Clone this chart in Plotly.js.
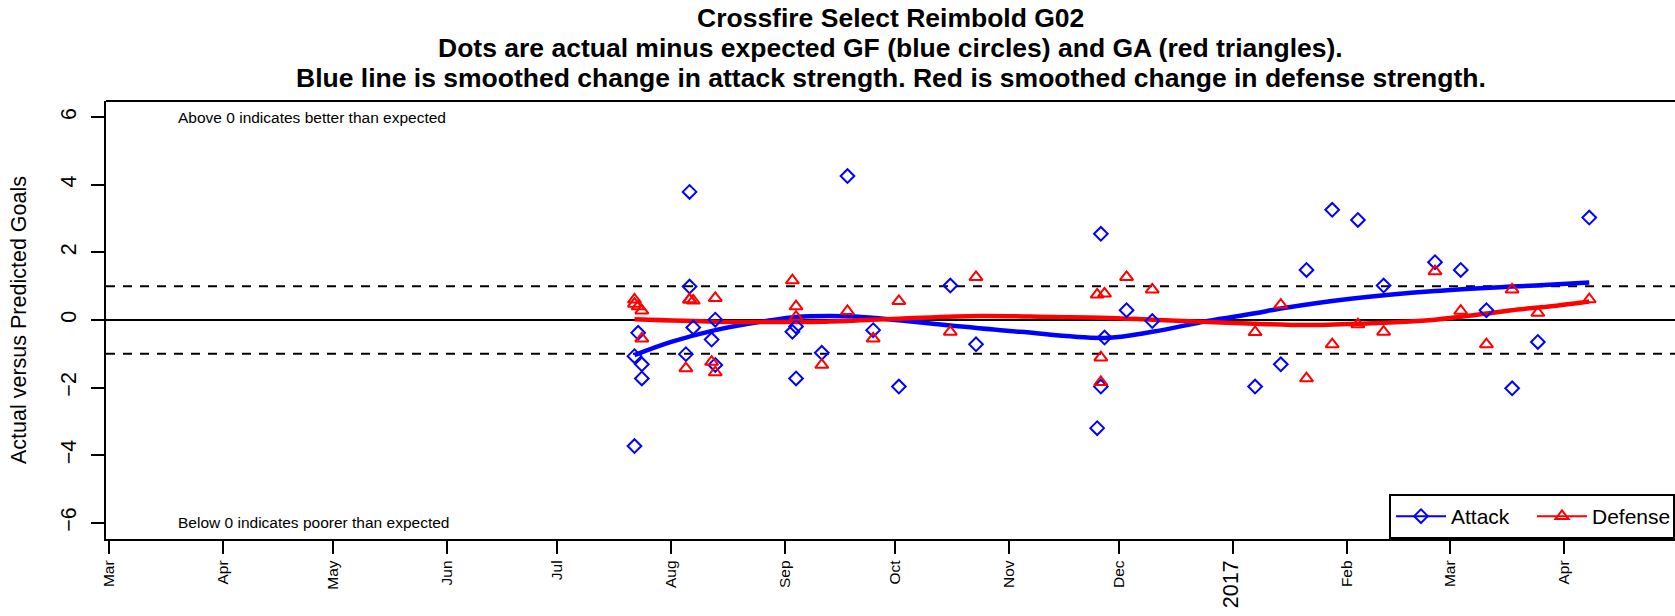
<!DOCTYPE html>
<html><head><meta charset="utf-8">
<script src="https://cdn.plot.ly/plotly-3.0.1.min.js"></script>
<style>html,body{margin:0;padding:0;background:#fff}#chart{width:1675px;height:616px}</style>
</head><body><div id="chart"></div>
<script>
// ---- data ----
const gameDates = ['2016-07-22','2016-07-22','2016-07-23','2016-07-24','2016-07-24',
  '2016-08-05','2016-08-06','2016-08-06','2016-08-07',
  '2016-08-12','2016-08-13','2016-08-13',
  '2016-09-03','2016-09-04','2016-09-04',
  '2016-09-11','2016-09-18','2016-09-25','2016-10-02','2016-10-16','2016-10-23',
  '2016-11-25','2016-11-26','2016-11-26','2016-11-27',
  '2016-12-03','2016-12-10',
  '2017-01-07','2017-01-14','2017-01-21','2017-01-28','2017-02-04','2017-02-11',
  '2017-02-25','2017-03-04','2017-03-11','2017-03-18','2017-03-25','2017-04-08'];
const attack = [-3.73,-1.07,-0.38,-1.31,-1.73,
  -1.01,3.79,0.99,-0.22,
  -0.58,0.01,-1.33,
  -0.35,-0.19,-1.73,
  -0.97,4.26,-0.30,-1.97,1.02,-0.72,
  -3.20,2.55,-1.97,-0.52,
  0.29,-0.03,
  -1.97,-1.31,1.48,3.26,2.96,1.02,
  1.71,1.48,0.29,-2.02,-0.65,3.03];
const defense = [0.60,0.48,0.40,0.28,-0.55,
  -1.43,0.60,0.60,0.57,
  -1.24,0.65,-1.55,
  1.17,0.40,0.09,
  -1.33,0.26,-0.55,0.56,-0.35,1.27,
  0.75,-1.11,-1.84,0.78,
  1.27,0.90,
  -0.36,0.45,-1.73,-0.72,-0.13,-0.35,
  1.44,0.27,-0.72,0.90,0.21,0.61];

const attackSmoothDates = ['2016-07-22','2016-08-01','2016-08-13','2016-08-28','2016-09-04','2016-09-13',
  '2016-09-20','2016-10-02','2016-10-16','2016-11-04','2016-11-27','2016-12-10','2016-12-25',
  '2017-01-07','2017-01-14','2017-02-02','2017-02-25','2017-03-18','2017-03-28','2017-04-08'];
const attackSmooth = [-1.04,-0.65,-0.30,-0.01,0.09,0.12,0.10,-0.01,-0.16,-0.35,-0.53,-0.35,-0.03,
  0.20,0.34,0.63,0.86,0.99,1.04,1.11];

const defenseSmoothDates = ['2016-07-22','2016-08-13','2016-08-28','2016-09-11','2016-10-02','2016-10-24',
  '2016-11-13','2016-11-26','2016-12-10','2016-12-25','2017-01-07','2017-01-21','2017-02-04',
  '2017-02-25','2017-03-11','2017-03-18','2017-03-28','2017-04-08'];
const defenseSmooth = [0.02,-0.05,-0.06,-0.05,0.04,0.12,0.09,0.07,0.01,-0.06,-0.11,-0.15,-0.11,
  0.01,0.19,0.29,0.40,0.55];

const xTickVals = ['2016-03-01','2016-04-01','2016-05-01','2016-06-01','2016-07-01','2016-08-01',
  '2016-09-01','2016-10-01','2016-11-01','2016-12-01','2017-01-01','2017-02-01','2017-03-01','2017-04-01'];
const xTickText = ['Mar','Apr','May','Jun','Jul','Aug','Sep','Oct','Nov','Dec',
  '<span style="font-size:21.5px">2017</span>','Feb','Mar','Apr'];
const yTickVals = [-6,-4,-2,0,2,4,6];
const yTickText = ['\u22126','\u22124','\u22122','0','2','4','6'];

const titleLines = ['Crossfire Select Reimbold G02',
  'Dots are actual minus expected GF (blue circles) and GA (red triangles).',
  'Blue line is smoothed change in attack strength. Red is smoothed change in defense strength.'];

const FONT = 'Liberation Sans, Arial, Helvetica, sans-serif';
const BLUE = '#0000FF', RED = '#FF0000';

const traces = [
  {x: attackSmoothDates, y: attackSmooth, mode: 'lines', line: {color: BLUE, width: 4.5, shape: 'spline'},
   showlegend: false, hoverinfo: 'skip'},
  {x: defenseSmoothDates, y: defenseSmooth, mode: 'lines', line: {color: RED, width: 4.5, shape: 'spline'},
   showlegend: false, hoverinfo: 'skip'},
  {x: gameDates, y: attack, mode: 'markers', showlegend: false,
   marker: {symbol: 'diamond-open', size: 10.5, color: BLUE, line: {width: 2, color: BLUE}}},
  {x: gameDates, y: defense, mode: 'markers', showlegend: false,
   marker: {symbol: 'triangle-up-open', size: 11.5, color: RED, line: {width: 2, color: RED}}},
  {x: [null], y: [null], name: 'Attack', mode: 'lines+markers', line: {color: BLUE, width: 2},
   marker: {symbol: 'diamond-open', size: 10.5, color: BLUE, line: {width: 2, color: BLUE}}},
  {x: [null], y: [null], name: 'Defense', mode: 'lines+markers', line: {color: RED, width: 2},
   marker: {symbol: 'triangle-up-open', size: 11.5, color: RED, line: {width: 2, color: RED}}}
];

const ML = 106, MT = 101, MB = 77, W = 1675, H = 616;
const plotH = H - MT - MB;
const pyToPaper = py => (H - MB - py) / plotH;
const pxToPaper = px => (px - ML) / (W - ML);

const annotations = titleLines.map((t, i) => ({
  text: '<b>' + t + '</b>', xref: 'paper', yref: 'paper', x: 0.5, y: pyToPaper([18, 48, 78][i]),
  xanchor: 'center', yanchor: 'middle', showarrow: false, font: {size: 26.5, color: '#000', family: FONT}
}));
annotations.push({text: 'Above 0 indicates better than expected', xref: 'paper', yref: 'y',
  x: pxToPaper(176), y: 6, xanchor: 'left', yanchor: 'middle', showarrow: false,
  font: {size: 15.5, color: '#000', family: FONT}});
annotations.push({text: 'Below 0 indicates poorer than expected', xref: 'paper', yref: 'y',
  x: pxToPaper(176), y: -6, xanchor: 'left', yanchor: 'middle', showarrow: false,
  font: {size: 15.5, color: '#000', family: FONT}});

const shapes = [
  {type: 'line', xref: 'paper', yref: 'y', x0: 0, x1: 1, y0: 0, y1: 0, line: {color: '#000', width: 2}, layer: 'below'},
  {type: 'line', xref: 'paper', yref: 'y', x0: 0, x1: 1, y0: 1, y1: 1, line: {color: '#000', width: 2, dash: '9px,8px'}, layer: 'below'},
  {type: 'line', xref: 'paper', yref: 'y', x0: 0, x1: 1, y0: -1, y1: -1, line: {color: '#000', width: 2, dash: '9px,8px'}, layer: 'below'},
  {type: 'line', xref: 'paper', yref: 'paper', x0: 0, x1: 1.01, y0: 1, y1: 1, line: {color: '#000', width: 2.2}}
];

const layout = {
  width: W, height: H,
  margin: {l: ML, r: 0, t: MT, b: MB, pad: 0},
  paper_bgcolor: '#fff', plot_bgcolor: '#fff',
  font: {family: FONT, color: '#000', size: 21.5},
  showlegend: true,
  legend: {orientation: 'h', x: 1, xanchor: 'right', y: 0, yanchor: 'bottom',
    bgcolor: '#fff', bordercolor: '#000', borderwidth: 2, font: {size: 21, family: FONT, color: '#000'},
    itemwidth: 50, entrywidth: 76, entrywidthmode: 'pixels'},
  xaxis: {type: 'date', range: ['2016-02-29 02:00', '2017-05-01 08:24'], showgrid: false, zeroline: false,
    showline: true, linecolor: '#000', linewidth: 2.2, ticks: 'outside', ticklen: 13, tickwidth: 2, tickcolor: '#000',
    tickmode: 'array', tickvals: xTickVals, ticktext: xTickText, tickangle: -90,
    tickfont: {size: 15.5, family: FONT, color: '#000'}, fixedrange: true},
  yaxis: {range: [-6.48, 6.48], showgrid: false, zeroline: false,
    showline: true, linecolor: '#000', linewidth: 2.2, ticks: 'outside', ticklen: 13, tickwidth: 2, tickcolor: '#000',
    tickmode: 'array', tickvals: yTickVals, ticktext: yTickText, tickangle: -90, ticklabelstandoff: 6,
    tickfont: {size: 21.5, family: FONT, color: '#000'},
    title: {text: 'Actual versus Predicted Goals', font: {size: 21.5, family: FONT, color: '#000'}, standoff: 25},
    fixedrange: true},
  annotations: annotations,
  shapes: shapes
};

Plotly.newPlot('chart', traces, layout, {staticPlot: true, displayModeBar: false});
</script></body></html>
